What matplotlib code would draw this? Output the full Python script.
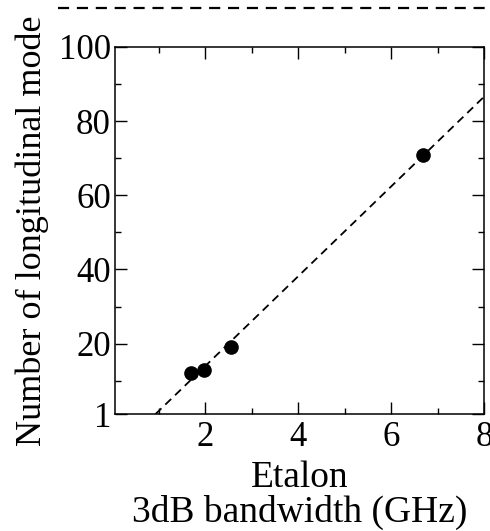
import matplotlib
matplotlib.use("Agg")
import matplotlib.pyplot as plt
from matplotlib.lines import Line2D

plt.rcParams["font.family"] = ["Liberation Serif", "DejaVu Serif"]
plt.rcParams["mathtext.fontset"] = "stix"

# etalon 3dB bandwidth (GHz) vs. number of longitudinal modes
bandwidth = [1.70, 1.97, 2.56, 6.68]
modes = [12.0, 13.0, 19.0, 71.0]

# linear fit, drawn between its two end points
fit_x = [0.93, 8.0]
fit_y = [1.0, 86.6]

y_ticks = [1, 20, 40, 60, 80, 100]
y_minor = [10, 30, 50, 70, 90]
x_ticks = [2, 4, 6, 8]
x_minor = [1, 3, 5, 7]

fig = plt.figure(figsize=(4.9, 5.31), dpi=100)
ax = fig.add_axes([0.235, 0.2203, 0.753, 0.6912])

ax.plot(fit_x, fit_y, color="black", lw=1.3, dashes=(4.5, 3))
ax.plot(bandwidth, modes, "o", color="black", ms=9.5)

ax.set_xlim(0.06, 8)
ax.set_ylim(1, 100)
ax.set_xticks(x_ticks)
ax.set_xticks(x_minor, minor=True)
ax.set_yticks(y_ticks)
ax.set_yticks(y_minor, minor=True)

ax.tick_params(which="both", direction="in", top=True, right=True,
               width=1.0, labelsize=25, pad=3)
ax.tick_params(axis="x", pad=5)
ax.tick_params(which="major", length=8.5)
ax.tick_params(which="minor", length=4.3)
for sp in ax.spines.values():
    sp.set_linewidth(1.1)

ax.set_xlabel("Etalon\n3dB bandwidth (GHz)", fontsize=27, linespacing=0.97,
              labelpad=5)
ax.set_ylabel("Number of longitudinal mode", fontsize=26, labelpad=7)

# dashed rule running along the top edge
fig.add_artist(Line2D([0.118, 1.0], [0.985, 0.985], transform=fig.transFigure,
                      color="black", lw=1.6, dashes=(5, 3.5)))

fig.savefig("out.png", dpi=100)
